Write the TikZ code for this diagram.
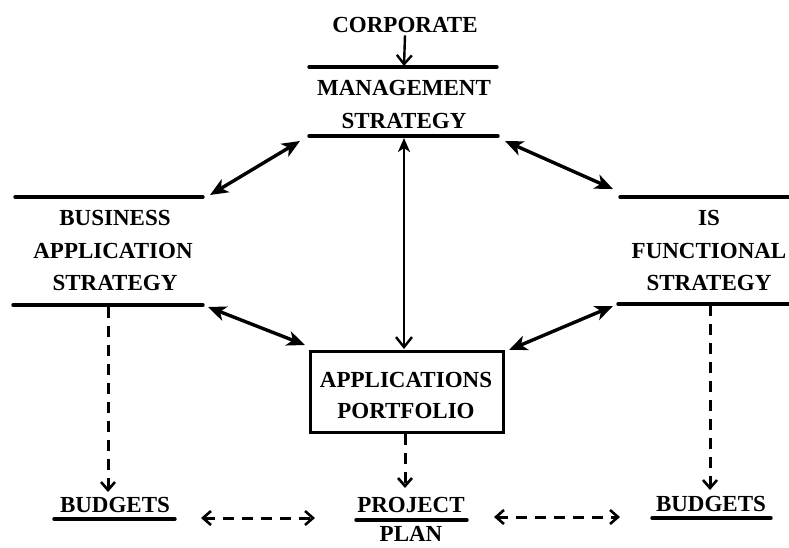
\documentclass[tikz,border=0pt]{standalone}
\usepackage{fontspec}
\setmainfont{Liberation Serif}
\usetikzlibrary{arrows.meta}
\tikzset{
  planhead/.tip={Straight Barb[length=8pt,width=14pt,line width=2.6pt]},
  linkhead/.tip={Stealth[length=18pt,width=15pt,inset=5pt]}
}
\begin{document}
\begin{tikzpicture}[x=1pt,y=-1pt,
  lbl/.style={anchor=base,inner sep=0pt,font=\bfseries\fontsize{23}{30}\selectfont},
  rule/.style={line width=3.4pt,line cap=round},
  link/.style={line width=3.4pt,{linkhead}-{linkhead}},
  flow/.style={line width=2.4pt},
  plan/.style={line width=3pt,dash pattern=on 11pt off 8pt}]
\useasboundingbox (0,0) rectangle (789,547);

% corporate input
\node[lbl] (corp) at (405,32) {CORPORATE};

% management strategy store
\node[lbl] (ms1) at (404,95) {MANAGEMENT};
\node[lbl] (ms2) at (404,128) {STRATEGY};
\coordinate (msTL) at (309,67);  \coordinate (msTR) at (497,67);
\coordinate (msBL) at (309,136); \coordinate (msBR) at (498,136);
\draw[rule] (msTL) -- (msTR);
\draw[rule] (msBL) -- (msBR);
\coordinate (msIn) at (404,66);
\coordinate (msOut) at (404,138);

% business application strategy store
\node[lbl] (ba1) at (115,225) {BUSINESS};
\node[lbl] (ba2) at (113,258) {APPLICATION};
\node[lbl] (ba3) at (115,290) {STRATEGY};
\coordinate (baTL) at (15,197);  \coordinate (baTR) at (203,197);
\coordinate (baBL) at (13,305);  \coordinate (baBR) at (203,305);
\draw[rule] (baTL) -- (baTR);
\draw[rule] (baBL) -- (baBR);

% IS functional strategy store
\node[lbl] (is1) at (709,225) {IS};
\node[lbl] (is2) at (709,258) {FUNCTIONAL};
\node[lbl] (is3) at (709,290) {STRATEGY};
\coordinate (isTL) at (620,197); \coordinate (isTR) at (789,197);
\coordinate (isBL) at (618,304); \coordinate (isBR) at (789,304);
\draw[rule] (isTL) -- (isTR);
\draw[rule] (isBL) -- (isBR);

% applications portfolio
\draw[line width=3pt] (310,351) rectangle (503,432);
\coordinate (apN) at (404,349);
\coordinate (apS) at (405,434);
\node[lbl] (ap1) at (406,387) {APPLICATIONS};
\node[lbl] (ap2) at (406,418) {PORTFOLIO};

% budgets and project plan
\node[lbl] (bl) at (115,512) {BUDGETS};
\draw[rule] (54,519) -- (175,519);
\node[lbl] (pp1) at (411,512) {PROJECT};
\draw[rule] (356,520) -- (467,520);
\node[lbl] (pp2) at (411,541) {PLAN};
\node[lbl] (br) at (711,511) {BUDGETS};
\draw[rule] (652,518) -- (771,518);

% strategy links
\draw[flow,-{Straight Barb[length=9pt,width=15pt]}] (corp.south) ++(0,3) -- (msIn);
\draw[flow,{Stealth[length=14pt,width=12pt,inset=4pt]}-{Straight Barb[length=10pt,width=16pt]}] (msOut) -- (apN);
\draw[link] (300,141) -- (210,195);
\draw[link] (505,141) -- (613,189);
\draw[link] (208,307) -- (305,345);
\draw[link] (613,306) -- (509,350);

% planning flows
\draw[plan,-{planhead}] (108,307) -- (108,492);
\draw[plan,-{planhead}] (710,305) -- (710,490);
\draw[plan,-{planhead}] (apS) -- (405,488);
\draw[plan,{planhead}-{planhead}] (201,518) -- (315,518);
\draw[plan,{planhead}-{planhead}] (494,517) -- (620,517);
\end{tikzpicture}
\end{document}
